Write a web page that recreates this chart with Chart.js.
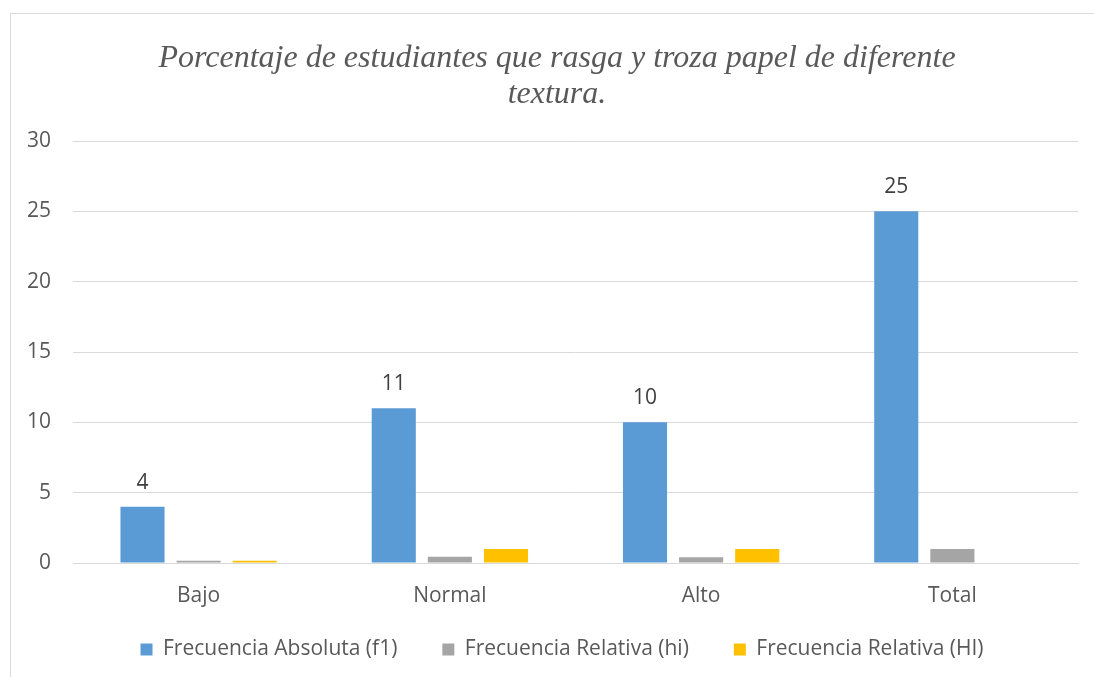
<!DOCTYPE html>
<html>
<head>
<meta charset="utf-8">
<script src="https://cdn.jsdelivr.net/npm/chart.js@4"></script>
<style>
  body { margin: 0; background: #ffffff; }
  #wrap { position: relative; width: 1094px; height: 677px; }
  #frame { position: absolute; left: 10px; top: 13px; width: 1100px; height: 700px; border: 1px solid #d9d9d9; box-sizing: border-box; }
  canvas { position: absolute; left: 0; top: 0; }
</style>
</head>
<body>
<div id="wrap">
  <div id="frame"></div>
  <canvas id="chart" width="1094" height="677"></canvas>
</div>
<script>
const categories = ['Bajo', 'Normal', 'Alto', 'Total'];
const absoluta = [4, 11, 10, 25];
const relativaHi = [0.16, 0.44, 0.4, 1];
const relativaHI = [0.16, 1, 1, null];
const titleLines = ['Porcentaje de estudiantes que rasga y troza papel de diferente', 'textura.'];

const textColor = '#595959';
const gridColor = '#d9d9d9';
const sans = "'Open Sans', 'Noto Sans', sans-serif";

// labels above the blue bars
const barLabels = {
    id: 'barLabels',
    afterDatasetsDraw(chart) {
        const ctx = chart.ctx;
        const meta = chart.getDatasetMeta(0);
        ctx.save();
        ctx.fillStyle = '#404040';
        ctx.font = '21px ' + sans;
        ctx.textAlign = 'center';
        ctx.textBaseline = 'alphabetic';
        meta.data.forEach((bar, i) => {
            ctx.fillText(String(absoluta[i]), bar.x, bar.y - 18);
        });
        ctx.restore();
    }
};

// fixed legend height, and nudge title / legend like the original
const boxTweaks = {
    id: 'boxTweaks',
    beforeInit(chart) {
        const fit = chart.legend.fit;
        chart.legend.fit = function () {
            fit.call(this);
            this.height = 69;
        };
    },
    afterLayout(chart) {
        chart.titleBlock.left += 18;
        chart.titleBlock.right += 18;
        chart.legend.left += 23;
        chart.legend.right += 23;
        chart.legend.top -= 14;
        chart.legend.bottom -= 14;
    }
};

new Chart(document.getElementById('chart'), {
    type: 'bar',
    data: {
        labels: categories,
        datasets: [
            { label: 'Frecuencia Absoluta (f1)', data: absoluta, backgroundColor: '#5b9bd5' },
            { label: 'Frecuencia Relativa (hi)', data: relativaHi, backgroundColor: '#a5a5a5' },
            { label: 'Frecuencia Relativa (HI)', data: relativaHI, backgroundColor: '#ffc000' }
        ]
    },
    options: {
        responsive: false,
        animation: false,
        layout: { padding: { left: 0, right: 16, top: 41, bottom: 0 } },
        datasets: {
            bar: { categoryPercentage: 0.67, barPercentage: 0.786 }
        },
        plugins: {
            title: {
                display: true,
                text: titleLines,
                color: textColor,
                font: { family: "'Liberation Serif', 'Times New Roman', serif", style: 'italic', size: 32, weight: 'normal', lineHeight: 1.125 },
                padding: { top: 0, bottom: 28 }
            },
            legend: {
                position: 'bottom',
                labels: {
                    color: textColor,
                    font: { family: sans, size: 21 },
                    boxWidth: 12,
                    boxHeight: 12,
                    padding: 45
                }
            },
            tooltip: { enabled: false }
        },
        scales: {
            x: {
                afterFit(scale) { scale.height = 45; },
                grid: { display: false, drawTicks: false },
                border: { color: gridColor },
                ticks: { color: textColor, font: { family: sans, size: 21 }, padding: 20 }
            },
            y: {
                min: 0,
                max: 30,
                afterFit(scale) { scale.width = 73; },
                grid: { color: gridColor, drawTicks: false },
                border: { display: false },
                ticks: { stepSize: 5, color: textColor, font: { family: sans, size: 21 }, padding: 22 }
            }
        }
    },
    plugins: [barLabels, boxTweaks]
});
</script>
</body>
</html>
